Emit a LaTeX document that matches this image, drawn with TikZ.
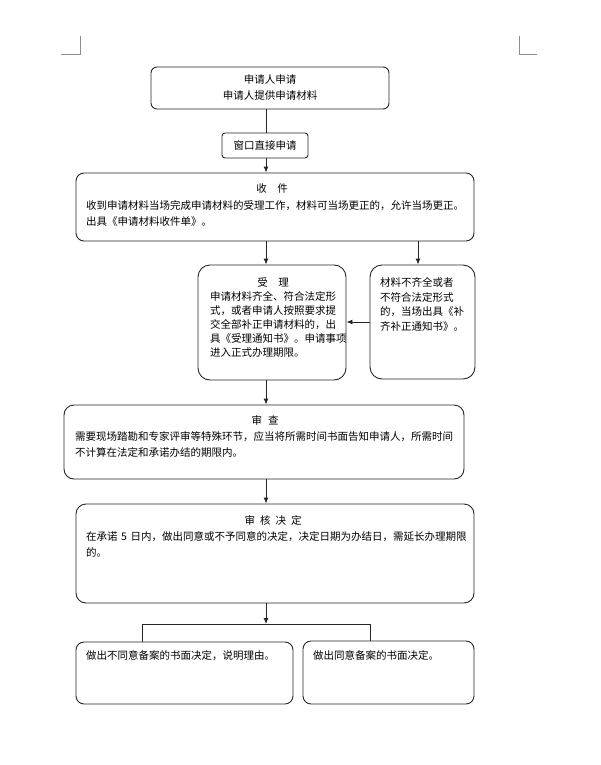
\documentclass[tikz,border=0pt]{standalone}
\usepackage{fontspec}
\setmainfont{Noto Sans CJK SC}
\usetikzlibrary{arrows.meta}
\tikzset{
  flowbox/.style={draw=black!85,line width=0.9pt,rounded corners=8pt,inner sep=0pt},
  flowtext/.style={anchor=north west,inner sep=0pt,align=left},
  flowline/.style={draw=black!85,line width=0.9pt},
  flowarrow/.style={flowline,-{Latex[length=6pt,width=5pt]}},
  cropmark/.style={draw=black!45,line width=0.8pt}
}
\begin{document}
\begin{tikzpicture}[x=1pt,y=-1pt]
  \useasboundingbox (0,0) rectangle (600,765);
  % page corners
  \draw [cropmark] (61,54) -- (80,54) -- (80,36);
  \draw [cropmark] (519,36) -- (519,54) -- (537,54);
  % boxes
  \node [flowbox,rounded corners=6pt,minimum width=238pt,minimum height=42pt,
   align=center,font=\fontsize{10.5}{16}\selectfont] (apply) at (270,88)
   {申请人申请\\申请人提供申请材料};
  \node [flowbox,rounded corners=3pt,minimum width=86pt,minimum height=25pt,
   font=\fontsize{10.5}{12}\selectfont] (window) at (265,145.5) {窗口直接申请};
  \node [flowbox,minimum width=398pt,minimum height=68pt] (receive) at (275,207) {};
  \node [flowbox,rounded corners=12pt,minimum width=148pt,minimum height=115pt] (accept) at (272,322.5) {};
  \node [flowbox,rounded corners=12pt,minimum width=105pt,minimum height=114pt] (lacking) at (422.5,322) {};
  \node [flowbox,rounded corners=10pt,minimum width=400pt,minimum height=74pt] (review) at (264,442) {};
  \node [flowbox,rounded corners=10pt,minimum width=398pt,minimum height=99pt] (decide) at (275,553.5) {};
  \node [flowbox,minimum width=217pt,minimum height=62pt] (refuse) at (184.5,673) {};
  \node [flowbox,minimum width=171pt,minimum height=63pt] (agree) at (388.5,672.5) {};
  % texts
  \node [flowtext,text width=384pt,font=\fontsize{10.5}{16.5}\selectfont] (receivetext) at (86,183.5)
   {\makebox[372pt]{收\quad 件}\\
    收到申请材料当场完成申请材料的受理工作，材料可当场更正的，允许当场更正。\\
    出具《申请材料收件单》。};
  \node [flowtext,text width=137pt,font=\fontsize{10.5}{14}\selectfont] (accepttext) at (210,277.5)
   {\makebox[126pt]{受\quad 理}\\
    申请材料齐全、符合法定形\\
    式，或者申请人按照要求提\\
    交全部补正申请材料的，出\\
    具《受理通知书》。申请事项\\
    进入正式办理期限。};
  \node [flowtext,text width=90pt,font=\fontsize{10.5}{14.5}\selectfont] (lackingtext) at (380,277.5)
   {材料不齐全或者\\
    不符合法定形式\\
    的，当场出具《补\\
    齐补正通知书》。};
  \node [flowtext,text width=384pt,font=\fontsize{10.5}{16}\selectfont] (reviewtext) at (75,415.5)
   {\makebox[380pt]{审\hspace{6pt}查}\\
    需要现场踏勘和专家评审等特殊环节，应当将所需时间书面告知申请人，所需时间\\
    不计算在法定和承诺办结的期限内。};
  \node [flowtext,text width=384pt,font=\fontsize{10.5}{16}\selectfont] (decidetext) at (86,515.5)
   {\makebox[374pt]{审\hspace{5pt}核\hspace{5pt}决\hspace{5pt}定}\\
    在承诺~5~日内，做出同意或不予同意的决定，决定日期为办结日，需延长办理期限\\
    的。};
  \node [flowtext,font=\fontsize{10.5}{16}\selectfont] (refusetext) at (86,650.5)
   {做出不同意备案的书面决定，说明理由。};
  \node [flowtext,font=\fontsize{10.5}{16}\selectfont] (agreetext) at (313,650.5)
   {做出同意备案的书面决定。};
  % connectors
  \coordinate (spine) at (266,0);
  \coordinate (side) at (418,0);
  \coordinate (fork) at (266,624);
  \coordinate (forkl) at (142,624);
  \coordinate (forkr) at (370,624);
  \draw [flowline] (spine |- apply.south) -- (spine |- window.north);
  \draw [flowarrow] (spine |- window.south) -- (spine |- receive.north);
  \draw [flowarrow] (spine |- receive.south) -- (spine |- accept.north);
  \draw [flowarrow] (side |- receive.south) -- (side |- lacking.north);
  \draw [flowarrow] (lacking.west) -- (lacking.west -| accept.east);
  \draw [flowarrow] (spine |- accept.south) -- (spine |- review.north);
  \draw [flowarrow] (spine |- review.south) -- (spine |- decide.north);
  \draw [flowarrow] (spine |- decide.south) -- (fork);
  \draw [flowline] (forkl |- refuse.north) -- (forkl) -- (forkr) -- (forkr |- agree.north);
\end{tikzpicture}
\end{document}
